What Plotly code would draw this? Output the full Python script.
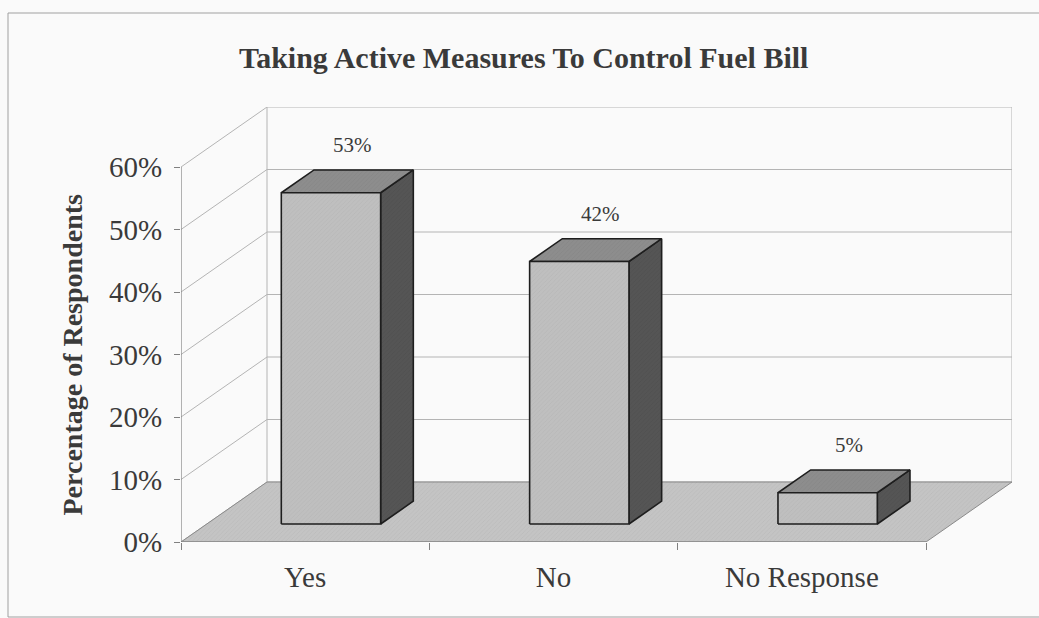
import plotly.graph_objects as go

# ---- data ----
categories = ["Yes", "No", "No Response"]
percent = [53, 42, 5]
y_ticks = [0, 10, 20, 30, 40, 50, 60]
y_tick_text = [f"{v}%" for v in y_ticks]
chart_title = "Taking Active Measures To Control Fuel Bill"
y_title = "Percentage of Respondents"

# ---- oblique 3-D projection settings ----
DX = 0.3463          # depth offset along x (category units)
DY = 9.6             # depth offset along y (percentage units)
BAR_FRONT, BAR_BACK = 0.30, 0.68   # depth slot occupied by each bar
BAR_L, BAR_R = 0.30, 0.70          # bar span inside its category
N = len(categories)
Y_MAX = y_ticks[-1]

FONT = "Liberation Serif, Times New Roman, serif"
TEXT = "#3a3a3a"
GRID = "#b4b4b4"

W, H = 1039, 618
M_L, M_R, M_T, M_B = 181, 27, 107, 76


def proj(x, y, d):
    """Project a point at category x, value y and depth d (0 front, 1 back)."""
    return x + d * DX, y + d * DY


def segments(pairs):
    xs, ys = [], []
    for a, b in pairs:
        for p in (a, b):
            px, py = proj(*p)
            xs.append(px)
            ys.append(py)
        xs.append(None)
        ys.append(None)
    return xs, ys


def polygon(points, fill, line_color, width=1.2, grain=None, xaxis="x"):
    xs, ys = [], []
    for p in points + [points[0]]:
        px, py = proj(*p)
        xs.append(px)
        ys.append(py)
    kw = {}
    if grain:
        kw["fillpattern"] = dict(shape="/", fgcolor=grain, bgcolor=fill,
                                 size=3, solidity=0.25)
    return go.Scatter(x=xs, y=ys, mode="lines", fill="toself", fillcolor=fill,
                      line=dict(color=line_color, width=width),
                      hoverinfo="skip", showlegend=False, xaxis=xaxis, **kw)


traces = []

# back wall gridlines and edges
gx, gy = segments([((0, v, 1), (N, v, 1)) for v in y_ticks])
traces.append(go.Scatter(x=gx, y=gy, mode="lines", line=dict(color=GRID, width=1),
                         hoverinfo="skip", showlegend=False))
ex, ey = segments([((0, 0, 1), (0, Y_MAX, 1)), ((N, 0, 1), (N, Y_MAX, 1))])
traces.append(go.Scatter(x=ex, y=ey, mode="lines", line=dict(color=GRID, width=1),
                         hoverinfo="skip", showlegend=False))

# side wall gridlines
sx, sy = segments([((0, v, 0), (0, v, 1)) for v in y_ticks])
traces.append(go.Scatter(x=sx, y=sy, mode="lines", line=dict(color=GRID, width=1),
                         hoverinfo="skip", showlegend=False))

# floor
traces.append(polygon([(0, 0, 0), (N, 0, 0), (N, 0, 1), (0, 0, 1)],
                      "#c4c4c4", "#8a8a8a", width=1, grain="#b2b2b2"))

# front value axis line
ax_x, ax_y = segments([((0, 0, 0), (0, Y_MAX, 0))])
traces.append(go.Scatter(x=ax_x, y=ax_y, mode="lines", line=dict(color="#808080", width=1.2),
                         hoverinfo="skip", showlegend=False))

# front floor edge (on the boundary-tick axis)
fx, fy = segments([((0, 0, 0), (N, 0, 0))])
traces.append(go.Scatter(x=fx, y=fy, mode="lines", line=dict(color="#808080", width=1.2),
                         hoverinfo="skip", showlegend=False, xaxis="x2"))

# bars
for i, v in enumerate(percent):
    x0, x1 = i + BAR_L, i + BAR_R
    f, b = BAR_FRONT, BAR_BACK
    # right side face
    traces.append(polygon([(x1, 0, f), (x1, 0, b), (x1, v, b), (x1, v, f)],
                          "#555555", "#1e1e1e", 1.6, grain="#4a4a4a"))
    # top face
    traces.append(polygon([(x0, v, f), (x1, v, f), (x1, v, b), (x0, v, b)],
                          "#8d8d8d", "#1e1e1e", 1.6, grain="#7e7e7e"))
    # front face
    traces.append(polygon([(x0, 0, f), (x1, 0, f), (x1, v, f), (x0, v, f)],
                          "#bfbfbf", "#1e1e1e", 1.6, grain="#b0b0b0"))

plot_w = W - M_L - M_R
plot_h = H - M_T - M_B


def paper_x(px):
    return (px - M_L) / plot_w


def paper_y(py):
    return (H - M_B - py) / plot_h


# value labels above each bar
annotations = []
for i, v in enumerate(percent):
    lx, ly = proj(i + 0.5, v, 0.55)
    annotations.append(dict(x=lx, y=v + BAR_BACK * DY + 4, xref="x", yref="y",
                            text=f"{v}%", showarrow=False, yanchor="middle",
                            font=dict(family=FONT, size=21, color=TEXT)))

# value-axis title, centred on the front axis span
annotations.append(dict(x=paper_x(72), y=Y_MAX / 2, xref="paper", yref="y",
                        text=f"<b>{y_title}</b>", textangle=-90, showarrow=False,
                        xanchor="center", yanchor="middle",
                        font=dict(family=FONT, size=28, color=TEXT)))

fig = go.Figure(traces)

fig.update_layout(
    width=W, height=H,
    margin=dict(l=M_L, r=M_R, t=M_T, b=M_B),
    paper_bgcolor="#fafafa",
    plot_bgcolor="rgba(0,0,0,0)",
    showlegend=False,
    title=dict(text=f"<b>{chart_title}</b>", x=0.504, xref="container", xanchor="center",
               y=1 - 57 / H, yref="container", yanchor="middle",
               font=dict(family=FONT, size=30, color=TEXT)),
    xaxis=dict(range=[0, N + DX], tickvals=[i + 0.5 for i in range(N)], ticktext=categories,
               ticks="", showgrid=False, zeroline=False, showline=False, automargin=False,
               ticklabelstandoff=15,
               tickfont=dict(family=FONT, size=29, color=TEXT), fixedrange=True),
    xaxis2=dict(range=[0, N + DX], overlaying="x", anchor="y", side="bottom",
                tickvals=list(range(N + 1)), ticks="outside", ticklen=7, tickcolor="#808080",
                showticklabels=False, showgrid=False, zeroline=False, showline=False,
                automargin=False, fixedrange=True),
    yaxis=dict(range=[0, Y_MAX + DY], tickvals=y_ticks, ticktext=y_tick_text,
               ticks="outside", ticklen=6, tickcolor="#808080", ticklabelstandoff=6,
               showgrid=False, zeroline=False, showline=False, automargin=False,
               tickfont=dict(family=FONT, size=29, color=TEXT),
               fixedrange=True),
    annotations=annotations,
    shapes=[dict(type="rect", xref="paper", yref="paper",
                 x0=paper_x(8), x1=paper_x(W + 10), y0=paper_y(617), y1=paper_y(13),
                 line=dict(color="#a0a0a0", width=1), fillcolor="rgba(0,0,0,0)",
                 layer="below")],
)

fig.write_html("out.html")
